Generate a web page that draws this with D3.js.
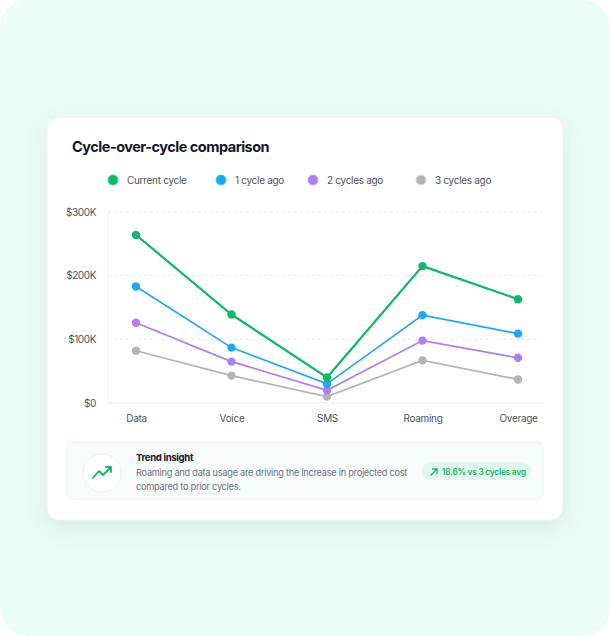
<!DOCTYPE html>
<html>
<head>
<meta charset="utf-8">
<script src="https://cdn.jsdelivr.net/npm/d3@7"></script>
<style>
  html, body { margin: 0; padding: 0; background: #fff; }
  body { width: 610px; height: 636px; overflow: hidden; font-family: Inter, "Noto Sans", sans-serif; }
</style>
</head>
<body>
<div id="chart"></div>
<script>
(() => {
    const categories = ['Data', 'Voice', 'SMS', 'Roaming', 'Overage'];
    const seriesNames = ['Current cycle', '1 cycle ago', '2 cycles ago', '3 cycles ago'];
    const currentCycle = [264000, 139000, 40000, 215000, 163000];
    const oneCycleAgo = [183000, 87000, 30000, 138000, 109000];
    const twoCyclesAgo = [126000, 65000, 20000, 98000, 71000];
    const threeCyclesAgo = [82000, 43000, 10000, 67000, 37000];
    const yTicks = [0, 100000, 200000, 300000];
    const colors = ['#12b76a', '#1fa6f4', '#b07cf0', '#b4b4b4'];

    const series = [currentCycle, oneCycleAgo, twoCyclesAgo, threeCyclesAgo]
        .map((values, i) => ({ name: seriesNames[i], color: colors[i], values }));

    const width = 610, height = 636;
    const font = 'Inter, "Noto Sans", sans-serif';

    const svg = d3.select('#chart')
        .append('svg')
        .attr('width', width)
        .attr('height', height)
        .attr('font-family', font);

    const defs = svg.append('defs');
    const shadow = defs.append('filter')
        .attr('id', 'shadow')
        .attr('x', '-20%').attr('y', '-20%')
        .attr('width', '140%').attr('height', '150%');
    shadow.append('feDropShadow')
        .attr('dx', 0).attr('dy', 8)
        .attr('stdDeviation', 10)
        .attr('flood-color', '#5f8f80')
        .attr('flood-opacity', 0.14);

    // mint backdrop
    svg.append('rect')
        .attr('width', width).attr('height', height)
        .attr('rx', 28)
        .attr('fill', '#eafcf6');

    // card
    svg.append('rect')
        .attr('x', 47).attr('y', 117)
        .attr('width', 516).attr('height', 403)
        .attr('rx', 12)
        .attr('fill', '#ffffff')
        .attr('stroke', '#eef2f1')
        .attr('filter', 'url(#shadow)');

    svg.append('text')
        .attr('x', 72).attr('y', 152)
        .attr('font-size', 14.5)
        .attr('font-weight', 700)
        .attr('letter-spacing', -0.5)
        .attr('fill', '#111827')
        .text('Cycle-over-cycle comparison');

    // legend
    const legendX = [113, 221, 313, 421];
    const legend = svg.append('g').selectAll('g')
        .data(series)
        .enter().append('g')
        .attr('transform', (d, i) => `translate(${legendX[i]},180)`);

    legend.append('circle')
        .attr('r', 5)
        .attr('fill', d => d.color)
        .attr('stroke', d => d3.color(d.color).brighter(0.6))
        .attr('stroke-width', 1);

    legend.append('text')
        .attr('x', 14)
        .attr('dy', '0.35em')
        .attr('font-size', 10)
        .attr('letter-spacing', -0.3)
        .attr('fill', '#4b5563')
        .text(d => d.name);

    // plot
    const left = 108, right = 543, top = 212, bottom = 403;

    const x = d3.scalePoint()
        .domain(categories)
        .range([136, 518]);

    const y = d3.scaleLinear()
        .domain([0, 300000])
        .range([bottom, top]);

    const plot = svg.append('g');

    plot.append('g')
        .selectAll('line')
        .data(yTicks.filter(t => t > 0))
        .enter().append('line')
        .attr('x1', left).attr('x2', right)
        .attr('y1', d => y(d)).attr('y2', d => y(d))
        .attr('stroke', '#e8eaed')
        .attr('stroke-dasharray', '3,3');

    plot.append('line')
        .attr('x1', left).attr('x2', right)
        .attr('y1', bottom).attr('y2', bottom)
        .attr('stroke', '#eceef0');

    plot.append('line')
        .attr('x1', left).attr('x2', left)
        .attr('y1', top).attr('y2', bottom)
        .attr('stroke', '#f1f2f4');

    const yAxis = plot.append('g')
        .attr('transform', `translate(${left},0)`)
        .call(d3.axisLeft(y)
            .tickValues(yTicks)
            .tickSize(0)
            .tickPadding(12)
            .tickFormat(d => d === 0 ? '$0' : `$${d / 1000}K`));
    yAxis.select('.domain').remove();
    yAxis.selectAll('text')
        .attr('font-size', 10)
        .attr('letter-spacing', -0.4)
        .attr('font-family', font)
        .attr('fill', '#4b5563');

    const xAxis = plot.append('g')
        .attr('transform', `translate(0,${bottom})`)
        .call(d3.axisBottom(x).tickSize(0).tickPadding(12));
    xAxis.select('.domain').remove();
    xAxis.selectAll('text')
        .attr('font-size', 10)
        .attr('letter-spacing', -0.3)
        .attr('font-family', font)
        .attr('fill', '#4b5563');

    const line = d3.line()
        .x((d, i) => x(categories[i]))
        .y(d => y(d));

    const lines = plot.append('g').selectAll('g')
        .data(series.slice().reverse())
        .enter().append('g');

    lines.append('path')
        .attr('d', d => line(d.values))
        .attr('fill', 'none')
        .attr('stroke', d => d.color)
        .attr('stroke-width', d => d.name === 'Current cycle' ? 2.2 : 1.7);

    lines.selectAll('circle')
        .data(d => d.values.map((v, i) => ({ v, i, color: d.color })))
        .enter().append('circle')
        .attr('cx', d => x(categories[d.i]))
        .attr('cy', d => y(d.v))
        .attr('r', 4.2)
        .attr('fill', d => d.color);

    // insight box
    const box = svg.append('g');
    box.append('rect')
        .attr('x', 67).attr('y', 442)
        .attr('width', 476).attr('height', 57)
        .attr('rx', 7)
        .attr('fill', '#f7fbfa')
        .attr('stroke', '#e9f3ef');

    box.append('circle')
        .attr('cx', 102).attr('cy', 473)
        .attr('r', 19)
        .attr('fill', '#ffffff')
        .attr('stroke', '#e3f5ee');

    box.append('path')
        .attr('d', 'M93,478 L99,471 L103,475 L111,467 M106,467 L111,467 L111,472')
        .attr('fill', 'none')
        .attr('stroke', '#12b76a')
        .attr('stroke-width', 1.8)
        .attr('stroke-linecap', 'round')
        .attr('stroke-linejoin', 'round');

    box.append('text')
        .attr('x', 136).attr('y', 461)
        .attr('font-size', 9.6)
        .attr('font-weight', 700)
        .attr('letter-spacing', -0.35)
        .attr('fill', '#111827')
        .text('Trend insight');

    box.append('text')
        .attr('x', 136).attr('y', 476)
        .attr('font-size', 9.2)
        .attr('letter-spacing', -0.25)
        .attr('fill', '#6b7280')
        .text('Roaming and data usage are driving the increase in projected cost');

    box.append('text')
        .attr('x', 136).attr('y', 490)
        .attr('font-size', 9.2)
        .attr('letter-spacing', -0.25)
        .attr('fill', '#6b7280')
        .text('compared to prior cycles.');

    box.append('rect')
        .attr('x', 422).attr('y', 462)
        .attr('width', 109).attr('height', 18)
        .attr('rx', 9)
        .attr('fill', '#e2f6ee');

    box.append('path')
        .attr('d', 'M431,475 L437,469 M432.5,469 L437,469 L437,473.5')
        .attr('fill', 'none')
        .attr('stroke', '#12b76a')
        .attr('stroke-width', 1.3)
        .attr('stroke-linecap', 'round');

    box.append('text')
        .attr('x', 442).attr('y', 474.5)
        .attr('font-size', 8.4)
        .attr('font-weight', 600)
        .attr('letter-spacing', -0.25)
        .attr('fill', '#12b76a')
        .text('18.6% vs 3 cycles avg');
})();
</script>
</body>
</html>
